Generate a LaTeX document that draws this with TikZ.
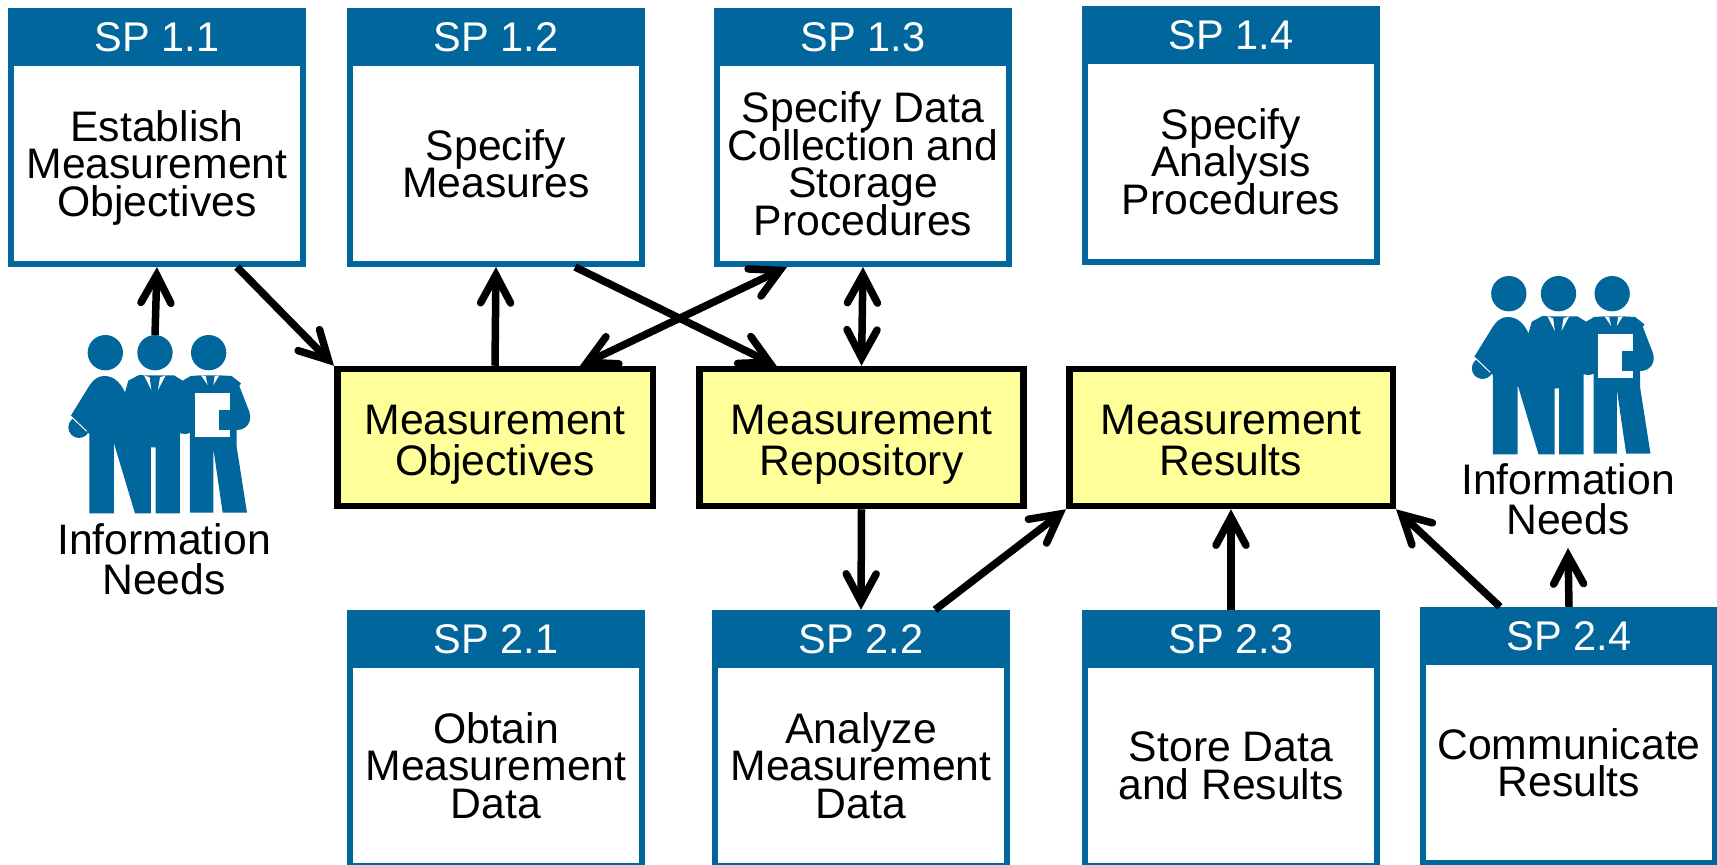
\documentclass[tikz,border=0pt]{standalone}
\usepackage{fontspec}
\setmainfont{Liberation Sans}
\usetikzlibrary{arrows.meta}
\definecolor{spblue}{HTML}{00669B}
\definecolor{storeyellow}{HTML}{FFFF99}
\normallineskiplimit=-1000pt
\lineskiplimit=-1000pt
\tikzset{
  bodybox/.style={draw=spblue,line width=6pt,fill=white,minimum width=292pt,inner sep=0pt,align=center,text depth=0pt,font=\fontsize{42.7}{37.5}\selectfont},
  headbox/.style={fill=spblue,text=white,minimum width=298pt,minimum height=58pt,inner sep=0pt,text depth=0pt,font=\fontsize{41.5}{41.5}\selectfont},
  storebox/.style={draw=black,line width=6.5pt,fill=storeyellow,minimum height=137pt,inner sep=0pt,align=center,text height=75pt,text depth=0pt,font=\fontsize{42.7}{40.5}\selectfont},
  labeltext/.style={inner sep=0pt,align=center,text depth=0pt,font=\fontsize{42.7}{40}\selectfont},
  barb/.tip={Straight Barb[length=28pt,width=30pt,line cap=round,line join=miter,line width=7.5pt]},
  link/.style={line width=7.5pt,line cap=butt,-{barb}},
  dlink/.style={line width=7.5pt,line cap=butt,{barb}-{barb}},
}
\newcommand{\spnode}[6]{%
  \pgfmathsetmacro{\cxx}{#2+149}%
  \pgfmathsetmacro{\cyy}{(#3+52+#4)/2}%
  \pgfmathsetmacro{\hgt}{#4-#3-58}%
  \node[bodybox,minimum height=\hgt pt] (#1) at (\cxx,\cyy) {#6};
  \pgfmathsetmacro{\hyy}{#3+29}%
  \node[headbox] (#1h) at (\cxx,\hyy) {#5};
}
\newcommand{\team}[2]{%
  \begin{scope}[shift={(#1,#2)},x=0.3333pt,y=-0.3333pt]
    \fill[spblue] (196,128) circle[radius=53];
    \fill[spblue] (345,128) circle[radius=53];
    \fill[spblue] (506,128) circle[radius=53];
    \fill[spblue] (148,610) -- (148,372) -- (92,318) -- (145,232)
      .. controls (160,208) and (175,198) .. (192,198)
      .. controls (220,198) and (240,215) .. (255,247)
      -- (265,212) -- (297,195) -- (312,196) -- (377,196) -- (402,196) -- (428,212)
      -- (452,198) -- (483,196) -- (538,196) -- (575,198) -- (603,220) -- (598,228)
      -- (628,305) .. controls (638,335) and (620,360) .. (590,360)
      -- (590,410) -- (621,608) -- (548,608) -- (520,415) -- (520,608) -- (450,608)
      -- (450,368) .. controls (440,373) and (430,373) .. (420,370)
      -- (420,610) -- (347,610) -- (347,412) -- (333,412) -- (333,610) -- (285,610)
      -- (222,400) -- (222,610) -- cycle;
    \fill[spblue] (117,352) circle[radius=32];
    \draw[white,line width=1pt] (92,318) -- (140,364);
    \fill[white] (312,196) -- (334,240) -- (329,202) -- cycle;
    \fill[white] (377,196) -- (354,240) -- (360,202) -- cycle;
    \fill[white] (483,196) -- (503,225) -- (497,198) -- cycle;
    \fill[white] (538,196) -- (520,225) -- (524,198) -- cycle;
    \fill[white] (465,250) rectangle (570,380);
    \fill[spblue] (537,300) rectangle (590,360);
  \end{scope}
}
\begin{document}
\begin{tikzpicture}[x=1pt,y=-1pt]
\useasboundingbox (0,0) rectangle (1717,865);
\spnode{sa}{8}{8}{267}{SP 1.1}{Establish\\Measurement\\Objectives}
\spnode{sb}{347}{8}{267}{SP 1.2}{Specify\\Measures}
\spnode{sc}{714}{8}{267}{SP 1.3}{Specify Data\\Collection and\\Storage\\Procedures}
\spnode{sd}{1082}{6}{265}{SP 1.4}{Specify\\Analysis\\Procedures}
\spnode{se}{347}{610}{869}{SP 2.1}{Obtain\\Measurement\\Data}
\spnode{sf}{712}{610}{869}{SP 2.2}{Analyze\\Measurement\\Data}
\spnode{sg}{1082}{610}{869}{SP 2.3}{Store Data\\and Results}
\spnode{si}{1420}{607}{866}{SP 2.4}{Communicate\\Results}
\node[storebox,minimum width=315.5pt] (mo) at (495,437.5) {Measurement\\Objectives};
\node[storebox,minimum width=324pt] (mr) at (861.5,437.5) {Measurement\\Repository};
\node[storebox,minimum width=323.5pt] (ms) at (1231,437.5) {Measurement\\Results};
\team{40}{310}
\team{1443.5}{251}
\node[labeltext] (inl) at (164,559.3) {Information\\Needs};
\node[labeltext] (inr) at (1568,499.3) {Information\\Needs};
\coordinate (pl) at (155,335);
\draw[link] (pl) -- (sa.south);
\draw[link] ([xshift=80pt]sa.south) -- (mo.north west);
\draw[link] (mo.north) -- (sb.south);
\draw[dlink] ([xshift=85pt]mo.north) -- ([xshift=-76pt]sc.south);
\draw[link] ([xshift=79pt]sb.south) -- ([xshift=-85pt]mr.north);
\draw[dlink] (sc.south) -- (mr.north);
\draw[link] (mr.south) -- (sf.north |- sfh.north);
\draw[link] ([xshift=74pt]sfh.north) -- (ms.south west);
\draw[link] (sgh.north) -- (ms.south);
\draw[link] ([xshift=-69pt]sih.north) -- (ms.south east);
\draw[link] (sih.north) -- ([yshift=-13pt]inr.south);
\end{tikzpicture}
\end{document}
